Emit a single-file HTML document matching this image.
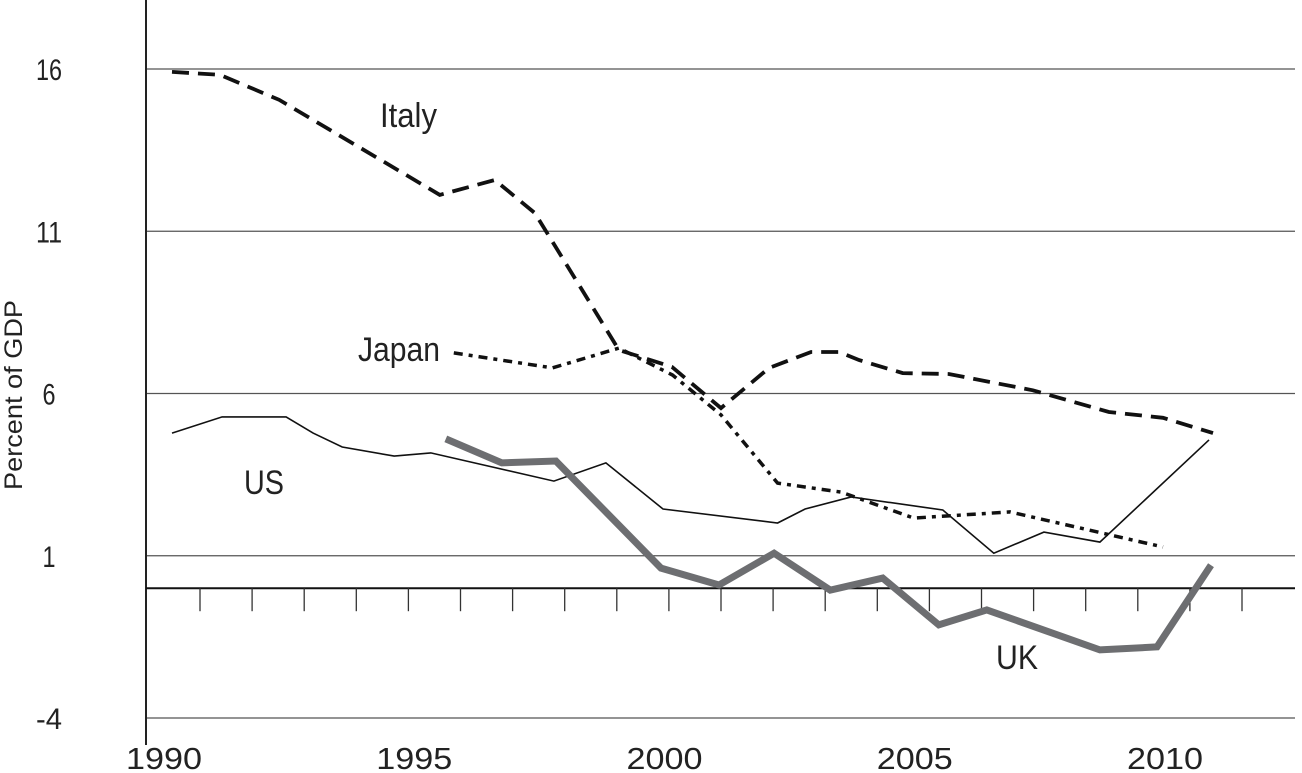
<!DOCTYPE html>
<html><head><meta charset="utf-8"><style>
html,body{margin:0;padding:0;background:#fff;}
svg{display:block;font-family:"Liberation Sans","DejaVu Sans",sans-serif;}
</style></head><body>
<svg id="chart" width="1302" height="773" viewBox="0 0 1302 773" xmlns="http://www.w3.org/2000/svg">
<g id="grid"></g>
<g id="axes"></g>
<g id="series"></g>
<g id="labels"></g>
</svg>
<script>
const yTicks = [16, 11, 6, 1, -4];
const xTickYears = [1990, 1995, 2000, 2005, 2010];
const italyYears = [1990,1990.96,1992.14,1995.35,1996.45,1997.25,1998.93,1999.99,2000.97,2001.93,2002.77,2003.33,2003.73,2004.6,2005.52,2007.2,2008.72,2009.8,2010.8];
const italyValues = [15.91,15.82,15.05,12.12,12.58,11.56,7.34,6.82,5.55,6.79,7.28,7.28,7.03,6.63,6.6,6.1,5.43,5.25,4.78];
const japanYears = [1995.63,1997.6,1998.93,2000,2000.97,2002.1,2003.37,2004.82,2006.74,2009.8];
const japanValues = [7.25,6.79,7.4,6.57,5.34,3.24,2.96,2.16,2.35,1.27];
const usYears = [1990,1991,1992.28,1992.82,1993.4,1994.44,1995.17,1997.63,1998.67,1999.81,2002.1,2002.65,2003.57,2005.4,2006.42,2007.42,2008.54,2010.72];
const usValues = [4.78,5.28,5.28,4.78,4.35,4.07,4.17,3.3,3.86,2.44,2.01,2.44,2.81,2.41,1.08,1.73,1.42,4.57];
const ukYears = [1995.47,1996.59,1997.67,1999.77,2000.93,2002.03,2003.15,2004.2,2005.32,2006.28,2008.54,2009.68,2010.76];
const ukValues = [4.6,3.86,3.92,0.62,0.1,1.08,-0.06,0.31,-1.13,-0.67,-1.9,-1.81,0.71];

const NS = "http://www.w3.org/2000/svg";
function xS(yr){ return 172 + (yr - 1990) * 50.05; }
function yS(v){ return 718 - (v + 4) * 32.45; }
function mk(tag, attrs, parent){
  const e = document.createElementNS(NS, tag);
  for (const k in attrs) e.setAttribute(k, attrs[k]);
  parent.appendChild(e);
  return e;
}
const grid = document.getElementById('grid');
const axes = document.getElementById('axes');
const series = document.getElementById('series');
const labels = document.getElementById('labels');

yTicks.forEach(v => {
  const l = mk('line', {x1:146, x2:1295, y1:yS(v), y2:yS(v), stroke:'#555', 'stroke-width':1.3}, grid);
  
  
  const s = String(v);
  const t = mk('text', {x:49, y:yS(v)+11, 'text-anchor':'middle', 'font-size':30, fill:'#222', textLength:s.length*13, lengthAdjust:'spacingAndGlyphs'}, axes);
  t.textContent = s;
  
  
});
const ya = mk('line', {x1:146, x2:146, y1:0, y2:745, stroke:'#222', 'stroke-width':2}, axes);


const zl = mk('line', {x1:146, x2:1295, y1:yS(0), y2:yS(0), stroke:'#111', 'stroke-width':2}, axes);


for (let i = 0; i < 21; i++) {
  const tx = 200 + i * 52.1;
  const tk = mk('line', {x1:tx, x2:tx, y1:yS(0), y2:yS(0)+23, stroke:'#333', 'stroke-width':1.3}, axes);
  
  
}
xTickYears.forEach(yr => {
  const t = mk('text', {x:xS(yr)-8, y:769, 'text-anchor':'middle', 'font-size':31, fill:'#222', textLength:76, lengthAdjust:'spacingAndGlyphs'}, axes);
  t.textContent = yr;
  
  
});
const yt = mk('text', {x:0, y:0, transform:'translate(22,395) rotate(-90)', 'text-anchor':'middle', 'font-size':25, fill:'#222', textLength:190, lengthAdjust:'spacingAndGlyphs'}, axes);
yt.textContent = 'Percent of GDP';



function line(years, vals, style, name){
  const d = years.map((y,i) => (i ? 'L' : 'M') + xS(y).toFixed(1) + ',' + yS(vals[i]).toFixed(1)).join(' ');
  const p = mk('path', Object.assign({d:d, fill:'none', 'stroke-linejoin':'miter'}, style), series);
  
  
}
line(usYears, usValues, {stroke:'#111', 'stroke-width':1.6}, 'us-line');
line(japanYears, japanValues, {stroke:'#111', 'stroke-width':3.5, 'stroke-dasharray':'9,6,4,6'}, 'japan-line');
line(italyYears, italyValues, {stroke:'#111', 'stroke-width':3.8, 'stroke-dasharray':'17,9'}, 'italy-line');
line(ukYears, ukValues, {stroke:'#6d6e71', 'stroke-width':7}, 'uk-line');

[['Italy',380,127,57,'italy-label'],['Japan',358,361,82,'japan-label'],['US',244,494,40,'us-label'],['UK',996,669,42,'uk-label']].forEach(a => {
  const t = mk('text', {x:a[1], y:a[2], 'font-size':34, fill:'#222', textLength:a[3], lengthAdjust:'spacingAndGlyphs'}, labels);
  t.textContent = a[0];
  
  
});
</script>
</body></html>
